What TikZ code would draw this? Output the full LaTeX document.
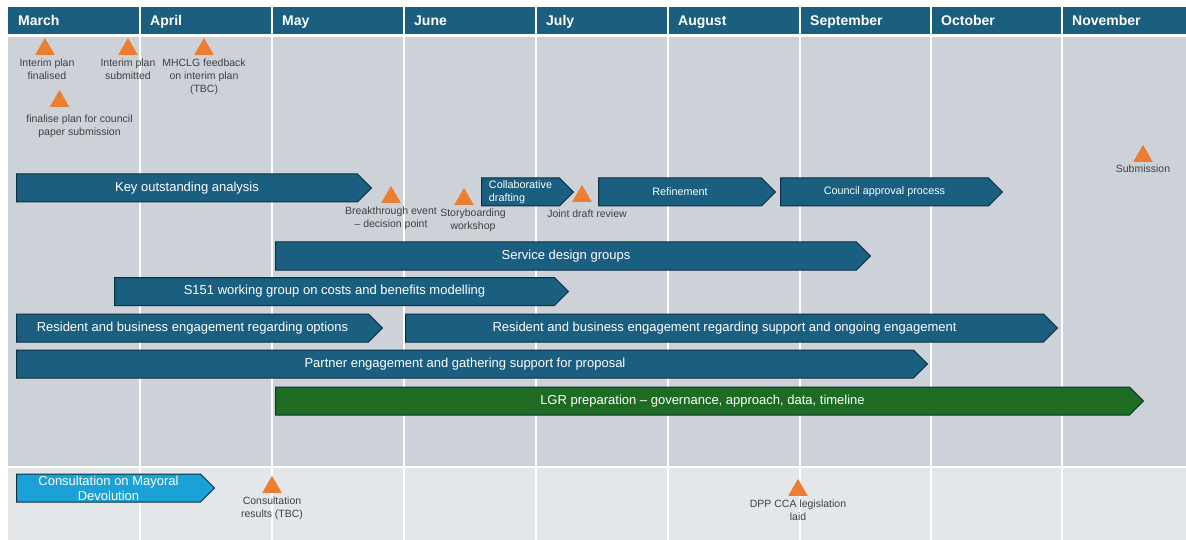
\documentclass[tikz,border=0pt]{standalone}
\usepackage{fontspec}
\setmainfont{Liberation Sans}
\usetikzlibrary{positioning,shapes.symbols,shapes.geometric}

\tikzset{
  mes/.style={anchor=base west,inner sep=0pt,text=white,font=\fontsize{14}{16}\selectfont\bfseries},
  etapa/.style={signal,signal to=east,signal from=nowhere,draw=borde,line width=1pt,fill=azul,text=white,
    minimum height=28pt,inner sep=0pt,anchor=west,align=center,font=\fontsize{13}{15}\selectfont},
  etapachica/.style={etapa,font=\fontsize{10.8}{13}\selectfont},
  hito/.style={regular polygon,regular polygon sides=3,fill=naranja,minimum size=22.5pt,inner sep=0pt,anchor=south},
  nota/.style={align=center,inner sep=0pt,text=texto,font=\fontsize{10.5}{13}\selectfont},
}

\begin{document}
\begin{tikzpicture}[x=1pt,y=-1pt,node distance=4pt]
    %colores
    \definecolor{cabecera}{HTML}{1A5E80}
    \definecolor{azul}{HTML}{1A5E80}
    \definecolor{borde}{HTML}{0E2F40}
    \definecolor{verde}{HTML}{1E6B24}
    \definecolor{celeste}{HTML}{1AA1D6}
    \definecolor{gris}{HTML}{CDD2D9}
    \definecolor{grisclaro}{HTML}{E4E7EA}
    \definecolor{naranja}{HTML}{ED7D31}
    \definecolor{texto}{HTML}{404040}

    \useasboundingbox (0,0) rectangle (1186,540);

    % Fondo y cabecera
    \fill[cabecera] (8,7) rectangle (1186,34);
    \fill[gris] (8,37) rectangle (1186,466);
    \fill[grisclaro] (8,468) rectangle (1186,540);
    % Lineas entre meses
    \foreach \x in {140,272,404,536,668,800,931,1062}
        \draw[white,line width=2pt] (\x,7) -- (\x,540);
    % Nombres de los meses
    \foreach \x/\mes in {8/March,140/April,272/May,404/June,536/July,668/August,800/September,931/October,1062/November}
        \node[mes] (m\mes) at (\x+10,25.5) {\mes};

    % Barras de trabajo
    \node[etapa,minimum width=355pt] (kAnalisis) at (16,188) {Key outstanding analysis};
    \node[etapachica,minimum width=92pt,align=left] (kColab) at (481,192) {Collaborative\\drafting};
    \node[etapachica,minimum width=177pt] (kRefin) at (598,192) {Refinement};
    \node[etapachica,minimum width=222pt] (kAprob) at (780,192) {Council approval process};
    \node[etapa,minimum width=595pt] (kServicio) at (275,256) {Service design groups};
    \node[etapa,minimum width=454pt] (kS151) at (114,291.5) {S151 working group on costs and benefits modelling};
    \node[etapa,minimum width=366pt] (kResOpc) at (16,328) {Resident and business engagement regarding options};
    \node[etapa,minimum width=652pt] (kResApoyo) at (405,328) {Resident and business engagement regarding support and ongoing engagement};
    \node[etapa,minimum width=911pt] (kSocios) at (16,364) {Partner engagement and gathering support for proposal};
    \node[etapa,fill=verde,minimum width=868pt] (kLGR) at (275,401) {LGR preparation – governance, approach, data, timeline};
    \node[etapa,fill=celeste,minimum width=198pt,font=\fontsize{13}{15}\selectfont] (kMayoral) at (16,488) {Consultation on Mayoral\\Devolution};

    % Hitos
    \node[hito] (tFinal) at (45,55) {};
    \node[nota,below=of tFinal,xshift=2pt] (lFinal) {Interim plan\\finalised};
    \node[hito] (tEnvio) at (128,55) {};
    \node[nota,below=of tEnvio] (lEnvio) {Interim plan\\submitted};
    \node[hito] (tMHCLG) at (204,55) {};
    \node[nota,below=of tMHCLG] (lMHCLG) {MHCLG feedback\\on interim plan\\(TBC)};
    \node[hito] (tPapel) at (59.5,107) {};
    \node[nota,below=8pt of tPapel,xshift=20pt] (lPapel) {finalise plan for council\\paper submission};
    \node[hito] (tRuptura) at (391,203) {};
    \node[nota,below=of tRuptura] (lRuptura) {Breakthrough event\\– decision point};
    \node[hito] (tTaller) at (464,205) {};
    \node[nota,below=of tTaller,xshift=9pt] (lTaller) {Storyboarding\\workshop};
    \node[hito] (tRevision) at (582,202) {};
    \node[nota,below=8pt of tRevision,xshift=5pt] (lRevision) {Joint draft review};
    \node[hito] (tEntrega) at (1143,162) {};
    \node[nota,below=3pt of tEntrega] (lEntrega) {Submission};
    \node[hito] (tResult) at (272,493) {};
    \node[nota,below=of tResult] (lResult) {Consultation\\results (TBC)};
    \node[hito] (tDPP) at (798,496) {};
    \node[nota,below=of tDPP] (lDPP) {DPP CCA legislation\\laid};
\end{tikzpicture}
\end{document}
